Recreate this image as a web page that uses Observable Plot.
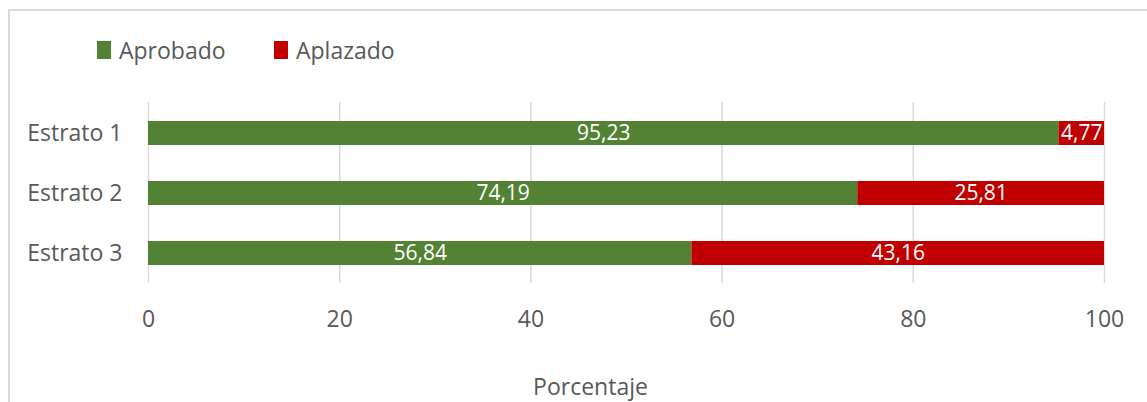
<!DOCTYPE html>
<html>
<head>
<meta charset="utf-8">
<script src="https://cdn.jsdelivr.net/npm/d3@7"></script>
<script src="https://cdn.jsdelivr.net/npm/@observablehq/plot@0.6"></script>
<style>
  body { margin: 0; width: 1147px; height: 402px; overflow: hidden; position: relative; background: #fff; font-family: "Open Sans", sans-serif; color: #595959; }
  #frame { position: absolute; left: 8px; top: 9px; width: 1200px; height: 500px; border: 2px solid #d9d9d9; box-sizing: border-box; }
  #legend { position: relative; height: 90px; }
  .item { position: absolute; top: 33px; display: flex; align-items: center; font-size: 23px; line-height: 34px; }
  .sw { width: 14px; height: 18px; margin-right: 8px; }
  #chart { position: relative; }
</style>
</head>
<body>
<div id="frame"></div>
<div id="legend"></div>
<div id="chart"></div>
<script>
const estratos = ["Estrato 1", "Estrato 2", "Estrato 3"];
const aprobado = [95.23, 74.19, 56.84];
const aplazado = [4.77, 25.81, 43.16];
const series = ["Aprobado", "Aplazado"];
const colors = ["#548235", "#C00000"];
const xTicks = [0, 20, 40, 60, 80, 100];
const xTitle = "Porcentaje";

const data = [];
estratos.forEach((e, i) => {
  data.push({estrato: e, serie: series[0], value: aprobado[i]});
  data.push({estrato: e, serie: series[1], value: aplazado[i]});
});
const fmt = v => d3.format(".2f")(v).replace(".", ",");

// legend
const legend = document.getElementById("legend");
const legendX = [97, 274];
series.forEach((s, i) => {
  const it = document.createElement("div");
  it.className = "item";
  it.style.left = legendX[i] + "px";
  const sw = document.createElement("span");
  sw.className = "sw";
  sw.style.background = colors[i];
  const tx = document.createElement("span");
  tx.textContent = s;
  it.appendChild(sw); it.appendChild(tx);
  legend.appendChild(it);
});

const chart = Plot.plot({
  width: 1147,
  height: 312,
  marginLeft: 148,
  marginRight: 43,
  marginTop: 12,
  marginBottom: 119,
  style: {fontFamily: "Open Sans, sans-serif", fontSize: "23px", color: "#595959", background: "transparent"},
  x: {domain: [0, 100]},
  y: {domain: estratos, paddingInner: 0.6, paddingOuter: 0.3},
  color: {domain: series, range: colors},
  marks: [
    Plot.gridX(xTicks, {stroke: "#d9d9d9", strokeOpacity: 1, strokeWidth: 1.5}),
    Plot.barX(data, Plot.stackX({x: "value", y: "estrato", fill: "serie"})),
    Plot.text(data, Plot.stackX({x: "value", y: "estrato", z: "serie", text: d => fmt(d.value), fill: "white", fontSize: 21})),
    Plot.axisY({tickSize: 0, tickPadding: 26, fontSize: 23, label: null}),
    Plot.axisX(xTicks, {tickSize: 0, tickPadding: 27, fontSize: 23, tickFormat: d => String(d), label: null}),
    Plot.text([xTitle], {frameAnchor: "bottom", text: d => d, dx: -36, dy: 104, lineAnchor: "middle", fontSize: 23, fill: "#595959"})
  ]
});
document.getElementById("chart").appendChild(chart);
</script>
</body>
</html>
